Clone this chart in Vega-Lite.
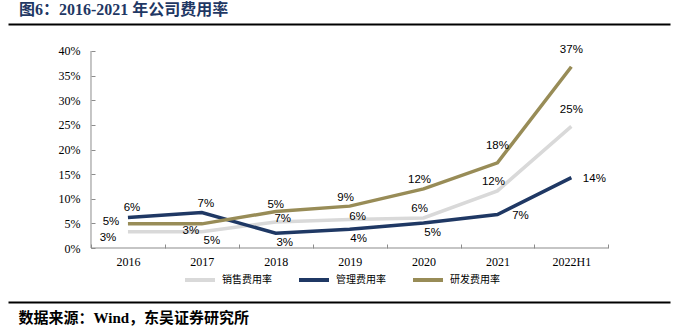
{
  "$schema": "https://vega.github.io/schema/vega-lite/v6.json",
  "width": 662,
  "height": 278,
  "autosize": {"type": "none"},
  "padding": {"left": 8, "top": 24, "right": 6, "bottom": 26},
  "background": "white",
  "config": {"view": {"stroke": null}},
  "title": {
    "text": "图6：2016-2021 年公司费用率",
    "anchor": "start",
    "frame": "group",
    "dx": 11,
    "offset": 6,
    "font": "Liberation Serif, Noto Sans CJK SC",
    "fontSize": 16,
    "fontWeight": "bold",
    "color": "#1f3864"
  },
  "data": {
    "values": [
      {"year": "2016", "series": "销售费用率", "value": 0.033, "label": "3%"},
      {"year": "2017", "series": "销售费用率", "value": 0.033, "label": "3%"},
      {"year": "2018", "series": "销售费用率", "value": 0.053, "label": "5%"},
      {"year": "2019", "series": "销售费用率", "value": 0.058, "label": "6%"},
      {"year": "2020", "series": "销售费用率", "value": 0.061, "label": "6%"},
      {"year": "2021", "series": "销售费用率", "value": 0.116, "label": "12%"},
      {"year": "2022H1", "series": "销售费用率", "value": 0.247, "label": "25%"},
      {"year": "2016", "series": "管理费用率", "value": 0.062, "label": "6%"},
      {"year": "2017", "series": "管理费用率", "value": 0.072, "label": "7%"},
      {"year": "2018", "series": "管理费用率", "value": 0.030, "label": "3%"},
      {"year": "2019", "series": "管理费用率", "value": 0.038, "label": "4%"},
      {"year": "2020", "series": "管理费用率", "value": 0.051, "label": "5%"},
      {"year": "2021", "series": "管理费用率", "value": 0.068, "label": "7%"},
      {"year": "2022H1", "series": "管理费用率", "value": 0.143, "label": "14%"},
      {"year": "2016", "series": "研发费用率", "value": 0.049, "label": "5%"},
      {"year": "2017", "series": "研发费用率", "value": 0.049, "label": "5%"},
      {"year": "2018", "series": "研发费用率", "value": 0.074, "label": "7%"},
      {"year": "2019", "series": "研发费用率", "value": 0.085, "label": "9%"},
      {"year": "2020", "series": "研发费用率", "value": 0.120, "label": "12%"},
      {"year": "2021", "series": "研发费用率", "value": 0.173, "label": "18%"},
      {"year": "2022H1", "series": "研发费用率", "value": 0.368, "label": "37%"}
    ]
  },
  "encoding": {
    "x": {
      "field": "year",
      "type": "nominal",
      "sort": ["2016", "2017", "2018", "2019", "2020", "2021", "2022H1"],
      "scale": {"type": "band", "paddingInner": 0, "paddingOuter": 0.979, "align": 0.5736},
      "axis": {
        "orient": "bottom",
        "offset": -54,
        "domain": false,
        "grid": false,
        "tickBand": "extent",
        "ticks": true,
        "tickSize": -4,
        "tickColor": "#8c8c8c",
        "labelAngle": 0,
        "labelFont": "Liberation Serif",
        "labelFontSize": 12,
        "labelColor": "black",
        "labelPadding": 12,
        "title": "数据来源：Wind，东吴证券研究所",
        "titleX": 10,
        "titleY": 69.5,
        "titleAlign": "left",
        "titleBaseline": "middle",
        "titleFont": "Liberation Serif, Noto Sans CJK SC",
        "titleFontSize": 15,
        "titleFontWeight": "bold",
        "titleColor": "black"
      }
    },
    "y": {
      "field": "value",
      "type": "quantitative",
      "scale": {"domain": [-0.10964, 0.45482], "nice": false, "zero": false},
      "axis": {
        "orient": "left",
        "offset": -83,
        "values": [-0.10964, 0, 0.05, 0.1, 0.15, 0.2, 0.25, 0.3, 0.35, 0.4, 0.45482],
        "labelExpr": "datum.value < -0.05 || datum.value > 0.42 ? '' : format(datum.value, '.0%')",
        "domain": false,
        "grid": true,
        "gridColor": "black",
        "gridWidth": 2,
        "gridOpacity": {"condition": {"test": "datum.value < -0.05 || datum.value > 0.42", "value": 1}, "value": 0},
        "ticks": true,
        "tickSize": -4,
        "tickColor": "#8c8c8c",
        "tickOpacity": {"condition": {"test": "datum.value < -0.05 || datum.value > 0.42", "value": 0}, "value": 1},
        "labelFont": "Liberation Serif",
        "labelFontSize": 12,
        "labelColor": "black",
        "labelPadding": 15,
        "title": null
      }
    }
  },
  "layer": [
    {
      "transform": [{"filter": "datum.series == '销售费用率' && datum.year == '2016'"}],
      "mark": {"type": "rule", "color": "#8c8c8c", "strokeWidth": 1},
      "encoding": {
        "x": {"field": "year", "type": "nominal", "bandPosition": 0},
        "y": {"datum": 0},
        "y2": {"datum": 0.4}
      }
    },
    {
      "transform": [{"filter": "datum.series == '销售费用率'"}],
      "mark": {"type": "rect", "color": "#8c8c8c"},
      "encoding": {
        "x": {"field": "year", "type": "nominal"},
        "y": {"datum": -0.001},
        "y2": {"datum": 0.001}
      }
    },
    {
      "mark": {"type": "line", "strokeWidth": 3.5},
      "encoding": {
        "color": {
          "field": "series",
          "type": "nominal",
          "scale": {"domain": ["销售费用率", "管理费用率", "研发费用率"], "range": ["#d9d9d9", "#1f3864", "#988c57"]},
          "legend": {
            "orient": "none",
            "legendX": 175,
            "legendY": 239,
            "direction": "horizontal",
            "title": null,
            "padding": 0,
            "symbolType": "stroke",
            "symbolSize": 900,
            "symbolStrokeWidth": 4,
            "labelOffset": 5,
            "columnPadding": 19,
            "labelFont": "Noto Sans CJK SC",
            "labelFontSize": 10,
            "labelColor": "black"
          }
        }
      }
    },
    {
      "transform": [{"filter": "indexof(['管理费用率2016','管理费用率2017'], datum.series + datum.year) >= 0"}],
      "mark": {"type": "text", "dx": 4, "dy": -9, "font": "Liberation Sans", "fontSize": 11.5, "color": "black"},
      "encoding": {"text": {"field": "label"}}
    },
    {
      "transform": [{"filter": "indexof(['管理费用率2018','管理费用率2019','管理费用率2020'], datum.series + datum.year) >= 0"}],
      "mark": {"type": "text", "dx": 9, "dy": 10, "font": "Liberation Sans", "fontSize": 11.5, "color": "black"},
      "encoding": {"text": {"field": "label"}}
    },
    {
      "transform": [{"filter": "indexof(['管理费用率2021','管理费用率2022H1'], datum.series + datum.year) >= 0"}],
      "mark": {"type": "text", "dx": 23, "dy": 1.5, "font": "Liberation Sans", "fontSize": 11.5, "color": "black"},
      "encoding": {"text": {"field": "label"}}
    },
    {
      "transform": [{"filter": "indexof(['研发费用率2019','研发费用率2020','销售费用率2020','销售费用率2021'], datum.series + datum.year) >= 0"}],
      "mark": {"type": "text", "dx": -4, "dy": -8.5, "font": "Liberation Sans", "fontSize": 11.5, "color": "black"},
      "encoding": {"text": {"field": "label"}}
    },
    {
      "transform": [{"filter": "indexof(['研发费用率2021','研发费用率2022H1','销售费用率2022H1','销售费用率2018'], datum.series + datum.year) >= 0"}],
      "mark": {"type": "text", "dx": 0, "dy": -16.5, "font": "Liberation Sans", "fontSize": 11.5, "color": "black"},
      "encoding": {"text": {"field": "label"}}
    },
    {
      "transform": [{"filter": "datum.series + datum.year == '研发费用率2016'"}],
      "mark": {"type": "text", "dx": -17, "dy": -2.3, "font": "Liberation Sans", "fontSize": 11.5, "color": "black"},
      "encoding": {"text": {"field": "label"}}
    },
    {
      "transform": [{"filter": "datum.series + datum.year == '销售费用率2016'"}],
      "mark": {"type": "text", "dx": -20, "dy": 6.3, "font": "Liberation Sans", "fontSize": 11.5, "color": "black"},
      "encoding": {"text": {"field": "label"}}
    },
    {
      "transform": [{"filter": "datum.series + datum.year == '研发费用率2017'"}],
      "mark": {"type": "text", "dx": 10, "dy": 17, "font": "Liberation Sans", "fontSize": 11.5, "color": "black"},
      "encoding": {"text": {"field": "label"}}
    },
    {
      "transform": [{"filter": "datum.series + datum.year == '研发费用率2018'"}],
      "mark": {"type": "text", "dx": 7, "dy": 7.3, "font": "Liberation Sans", "fontSize": 11.5, "color": "black"},
      "encoding": {"text": {"field": "label"}}
    },
    {
      "transform": [{"filter": "datum.series + datum.year == '销售费用率2017'"}],
      "mark": {"type": "text", "dx": -11, "dy": -1, "font": "Liberation Sans", "fontSize": 11.5, "color": "black"},
      "encoding": {"text": {"field": "label"}}
    },
    {
      "transform": [{"filter": "datum.series + datum.year == '销售费用率2019'"}],
      "mark": {"type": "text", "dx": 8, "dy": -2.6, "font": "Liberation Sans", "fontSize": 11.5, "color": "black"},
      "encoding": {"text": {"field": "label"}}
    }
  ]
}
